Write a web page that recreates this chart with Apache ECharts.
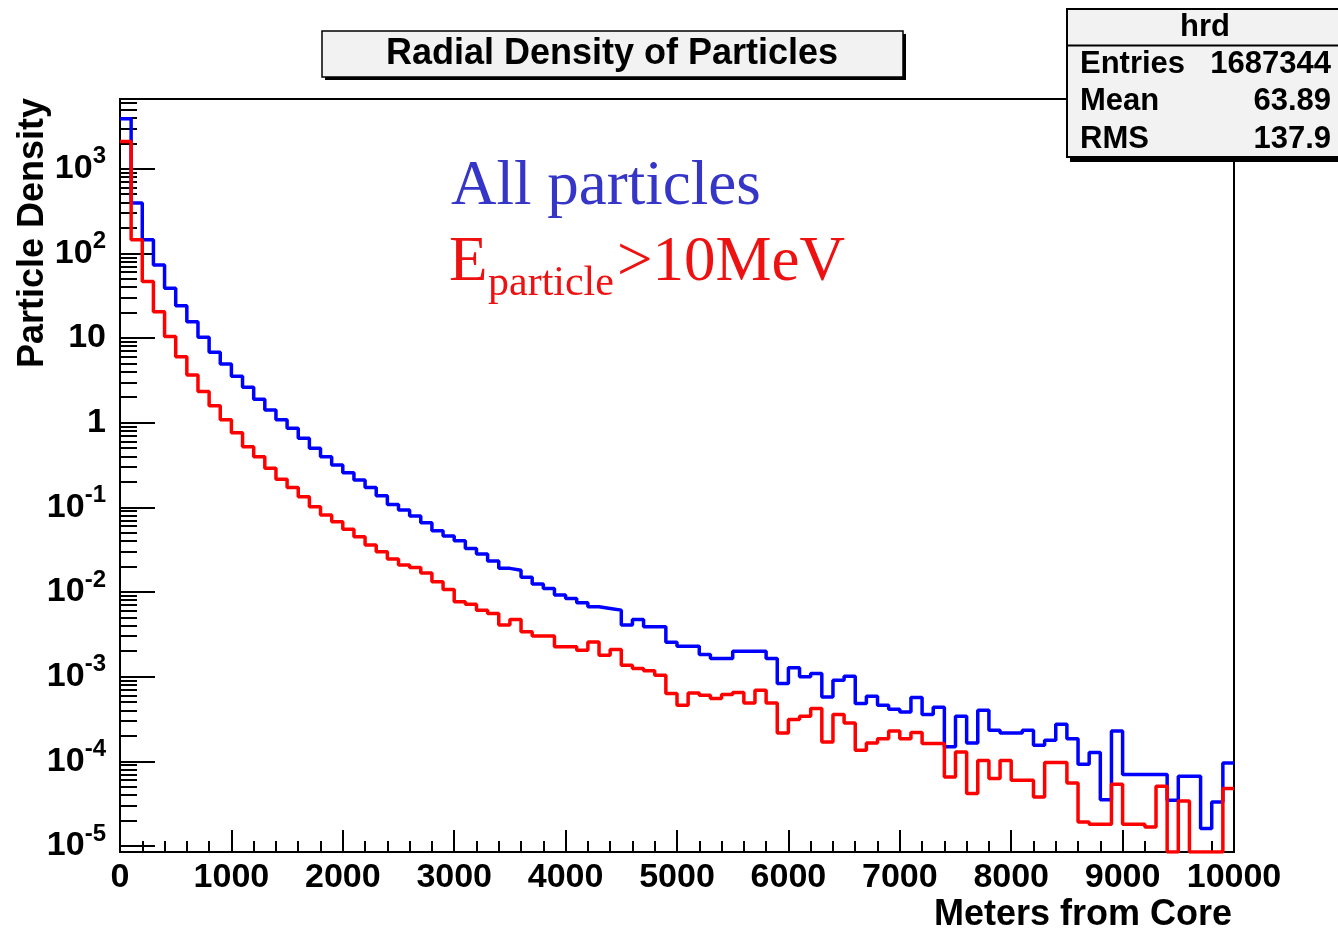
<!DOCTYPE html>
<html>
<head>
<meta charset="utf-8">
<script src="https://cdn.jsdelivr.net/npm/echarts@6/dist/echarts.min.js"></script>
<style>
html,body{margin:0;padding:0;background:#ffffff;}
#chart{width:1338px;height:930px;}
</style>
</head>
<body>
<div id="chart"></div>
<script>
// ---- data ----
const BIN_WIDTH = 100;            // metres per histogram bin
const X_MIN = 0, X_MAX = 10000;
const Y_MIN = 8.47e-6, Y_MAX = 6670;

// "All particles" (blue), one value per 100 m bin, starting at 0 m
const allParticles = [
  3900, 393, 145, 73, 38.8, 24, 15.6, 10.2, 6.8, 4.95,
  3.54, 2.62, 1.89, 1.41, 1.08, 0.86, 0.654, 0.498, 0.396, 0.316,
  0.256, 0.21, 0.172, 0.137, 0.108, 0.093, 0.079, 0.0657, 0.0529, 0.0457,
  0.0403, 0.0327, 0.028, 0.0232, 0.019, 0.0181, 0.0149, 0.0124, 0.011, 0.00918,
  0.00839, 0.00745, 0.00667, 0.00639, 0.0061, 0.00406, 0.00473, 0.00387, 0.00387, 0.00255,
  0.00229, 0.00229, 0.00183, 0.00164, 0.00164, 0.002, 0.002, 0.002, 0.00164, 0.000829,
  0.00127, 0.000993, 0.00109, 0.000576, 0.000907, 0.00101, 0.000481, 0.000587, 0.000459, 0.000412,
  0.000383, 0.000566, 0.000356, 0.000435, 0.000148, 0.00034, 0.000164, 0.000401, 0.000232, 0.000216,
  0.000216, 0.000232, 0.000155, 0.000177, 0.000274, 0.000185, 0.000092, 0.000127, 0.0000352, 0.000228,
  0.0000697, 0.0000697, 0.0000697, 0.0000697, 0.0000346, 0.0000665, 0.0000665, 0.000016, 0.000033, 0.0000955
];

// "E_particle > 10 MeV" (red)
const highEnergy = [
  2100, 145, 46.5, 20.5, 10.4, 6.03, 3.66, 2.33, 1.58, 1.08,
  0.762, 0.52, 0.396, 0.289, 0.214, 0.172, 0.133, 0.1016, 0.0811, 0.0675,
  0.0549, 0.0449, 0.0358, 0.0298, 0.0245, 0.0208, 0.0195, 0.0168, 0.0132, 0.0107,
  0.00765, 0.00718, 0.0061, 0.00557, 0.00406, 0.00473, 0.00338, 0.00301, 0.00301, 0.00225,
  0.00225, 0.00205, 0.00257, 0.00179, 0.00209, 0.00136, 0.00125, 0.00117, 0.00104, 0.000631,
  0.000459, 0.000642, 0.000603, 0.000551, 0.000614, 0.000649, 0.000489, 0.00069, 0.000489, 0.000216,
  0.000311, 0.00034, 0.00042, 0.000169, 0.000356, 0.000284, 0.000135, 0.000164, 0.000185, 0.000228,
  0.000185, 0.000218, 0.000162, 0.000162, 0.0000652, 0.000129, 0.0000415, 0.000102, 0.0000624, 0.000102,
  0.0000597, 0.0000597, 0.0000378, 0.0000964, 0.0000964, 0.0000555, 0.0000192, 0.000018, 0.000018, 0.0000535,
  0.000018, 0.000018, 0.0000167, 0.0000506, 0, 0.000034, 0, 0, 0, 0.0000475
];

// axis ticks
const X_INTERVAL = 1000;
const Y_MAJOR = [1e-5, 1e-4, 1e-3, 1e-2, 1e-1, 1, 10, 100, 1000];
const Y_MINOR_MULT = [2, 3, 4, 5, 6, 7, 8, 9];

// stats box text
const STATS_NAME = 'hrd';
const STATS_ROWS = [['Entries', '1687344'], ['Mean', '63.89'], ['RMS', '137.9']];

const TITLE = 'Radial Density of Particles';
const X_TITLE = 'Meters from Core';
const Y_TITLE = 'Particle Density';

// ---- build ----
const SANS = 'Liberation Sans';
const SERIF = 'Liberation Serif';

const yMinor = [];
Y_MAJOR.forEach(d => Y_MINOR_MULT.forEach(m => {
  const v = m * d;
  if (v > Y_MIN && v < Y_MAX) yMinor.push(v);
}));

function histSteps(vals) {
  const pts = vals.map((v, i) => [i * BIN_WIDTH, v > 0 ? v : Y_MIN]);
  const last = vals[vals.length - 1];
  pts.push([vals.length * BIN_WIDTH, last > 0 ? last : Y_MIN]);
  return pts;
}

function yLabel(v) {
  const e = Math.round(Math.log10(v));
  if (e === 0) return '{b|1}';
  if (e === 1) return '{b|10}';
  return '{b|10}{s|' + (e < 0 ? '-' + (-e) : String(e)) + '}';
}

const chart = echarts.init(document.getElementById('chart'), null, {renderer: 'canvas'});

const option = {
  animation: false,
  backgroundColor: '#ffffff',
  grid: {
    left: 120, right: 104, top: 99, bottom: 78,
    show: true, borderColor: '#000', borderWidth: 2, backgroundColor: 'transparent',
    outerBoundsMode: 'none', containLabel: false
  },
  xAxis: {
    type: 'value', min: X_MIN, max: X_MAX, interval: X_INTERVAL,
    axisLine: {show: true, onZero: false, lineStyle: {color: '#000', width: 2}},
    axisTick: {show: true, inside: true, length: 22, lineStyle: {color: '#000', width: 2}},
    minorTick: {show: true, splitNumber: 5, length: 11, lineStyle: {color: '#000', width: 2}},
    splitLine: {show: false}, minorSplitLine: {show: false},
    axisLabel: {
      color: '#000', fontFamily: SANS, fontSize: 34, fontWeight: 'bold', margin: 9,
      formatter: v => String(v)
    }
  },
  yAxis: [
    {
      type: 'log', logBase: 10, min: Y_MIN, max: Y_MAX, position: 'left',
      axisLine: {show: true, onZero: false, lineStyle: {color: '#000', width: 2}},
      axisTick: {show: true, inside: true, length: 35, customValues: Y_MAJOR, lineStyle: {color: '#000', width: 2}},
      minorTick: {show: false},
      splitLine: {show: false},
      axisLabel: {
        customValues: Y_MAJOR, margin: 14, color: '#000',
        formatter: yLabel,
        rich: {
          b: {fontFamily: SANS, fontSize: 34, fontWeight: 'bold', color: '#000', lineHeight: 34},
          s: {fontFamily: SANS, fontSize: 24, fontWeight: 'bold', color: '#000', lineHeight: 24, padding: [0, 0, 24, 0]}
        }
      }
    },
    {
      type: 'log', logBase: 10, min: Y_MIN, max: Y_MAX, position: 'left', offset: 0,
      axisLine: {show: false},
      axisTick: {show: true, inside: true, length: 17, customValues: yMinor, lineStyle: {color: '#000', width: 2}},
      minorTick: {show: false},
      splitLine: {show: false},
      axisLabel: {show: false}
    }
  ],
  series: [
    {
      name: 'All particles', type: 'line', step: 'end', yAxisIndex: 0,
      data: histSteps(allParticles), symbol: 'none', showSymbol: false, clip: true,
      lineStyle: {color: '#0000ff', width: 3.5}, z: 3
    },
    {
      name: 'E_particle>10MeV', type: 'line', step: 'end', yAxisIndex: 0,
      data: histSteps(highEnergy), symbol: 'none', showSymbol: false, clip: true,
      lineStyle: {color: '#ff0000', width: 3.5}, z: 4
    }
  ],
  graphic: [
    // title box
    {type: 'rect', z: 100, shape: {x: 325, y: 34, width: 581, height: 46}, style: {fill: '#000'}},
    {type: 'rect', z: 101, shape: {x: 322, y: 31, width: 581, height: 46}, style: {fill: '#f2f2f2', stroke: '#000', lineWidth: 1.5}},
    {type: 'text', z: 102, x: 612, y: 54, style: {text: TITLE, font: 'bold 36px "' + SANS + '"', fill: '#000', align: 'center', verticalAlign: 'middle'}},
    // stats box
    {type: 'rect', z: 100, shape: {x: 1070, y: 12, width: 290, height: 150}, style: {fill: '#000'}},
    {type: 'rect', z: 101, shape: {x: 1067, y: 9, width: 290, height: 148}, style: {fill: '#f2f2f2', stroke: '#000', lineWidth: 2}},
    {type: 'line', z: 102, shape: {x1: 1067, y1: 45.5, x2: 1338, y2: 45.5}, style: {stroke: '#000', lineWidth: 2}},
    {type: 'text', z: 102, x: 1205, y: 27, style: {text: STATS_NAME, font: 'bold 31px "' + SANS + '"', fill: '#000', align: 'center', verticalAlign: 'middle'}},
    ...STATS_ROWS.map((r, i) => ({type: 'text', z: 102, x: 1080, y: 64 + i * 37.5, style: {text: r[0], font: 'bold 31px "' + SANS + '"', fill: '#000', align: 'left', verticalAlign: 'middle'}})),
    ...STATS_ROWS.map((r, i) => ({type: 'text', z: 102, x: 1331, y: 64 + i * 37.5, style: {text: r[1], font: 'bold 31px "' + SANS + '"', fill: '#000', align: 'right', verticalAlign: 'middle'}})),
    // axis titles
    {type: 'text', z: 102, x: 1232, y: 915, style: {text: X_TITLE, font: 'bold 36px "' + SANS + '"', fill: '#000', align: 'right', verticalAlign: 'middle'}},
    {type: 'text', z: 102, x: 33, y: 98, rotation: Math.PI / 2, style: {text: Y_TITLE, font: 'bold 36px "' + SANS + '"', fill: '#000', align: 'right', verticalAlign: 'middle'}},
    // in-plot annotations
    {type: 'text', z: 102, x: 451, y: 187, style: {text: 'All particles', font: '63px "' + SERIF + '"', fill: '#3535c8', align: 'left', verticalAlign: 'middle'}},
    {type: 'text', z: 102, x: 449, y: 263, style: {text: 'E', font: '63px "' + SERIF + '"', fill: '#ee1111', align: 'left', verticalAlign: 'middle'}},
    {type: 'text', z: 102, x: 488, y: 284, style: {text: 'particle', font: '42px "' + SERIF + '"', fill: '#ee1111', align: 'left', verticalAlign: 'middle'}},
    {type: 'text', z: 102, x: 617, y: 263, style: {text: '>10MeV', font: '63px "' + SERIF + '"', fill: '#ee1111', align: 'left', verticalAlign: 'middle'}}
  ]
};

chart.setOption(option);
</script>
</body>
</html>
